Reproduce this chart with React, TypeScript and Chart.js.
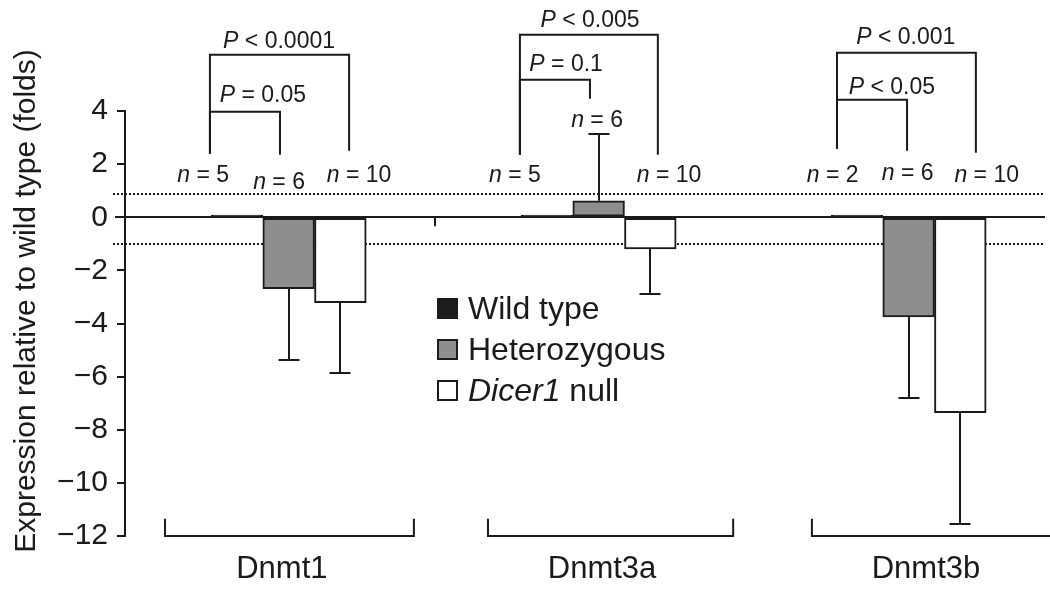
import React, { useEffect, useRef } from 'react';
import { Chart, registerables } from 'chart.js';

Chart.register(...registerables);

// ---------- data ----------
const categories = ['Dnmt1', 'Dnmt3a', 'Dnmt3b'];
const seriesLabels = ['Wild type', 'Heterozygous', 'Dicer1 null'];
const wildType = [0.08, 0.08, 0.08];
const heterozygous = [-2.69, 0.62, -3.75];
const dicer1Null = [-3.22, -1.19, -7.36];
const heterozygousError = [2.68, 2.52, 3.05];
const dicer1NullError = [2.63, 1.69, 4.18];
const nWildType = [5, 5, 2];
const nHeterozygous = [6, 6, 6];
const nDicer1Null = [10, 10, 10];
const pHeterozygous = ['= 0.05', '= 0.1', '< 0.05'];
const pDicer1Null = ['< 0.0001', '< 0.005', '< 0.001'];
const referenceLines = [0.88, -1.0];
const yMin = -12;
const yMax = 4;
const yStep = 2;
const yTitle = 'Expression relative to wild type (folds)';

// ---------- styling / annotation layout (data units) ----------
const FONT = '"Liberation Sans", Arial, Helvetica, sans-serif';
const INK = '#1a1a1a';
const fills = ['#1c1c1c', '#8e8e8e', '#ffffff'];

const nLabelPos = [
  [[-0.276, 1.64], [-0.031, 1.37], [0.227, 1.64]],
  [[0.73, 1.64], [0.995, 3.71], [1.227, 1.64]],
  [[1.755, 1.64], [1.997, 1.72], [2.252, 1.64]],
];
const hetBracket = [
  { x1: -0.254, x2: -0.028, top: 3.97, b1: 2.39, b2: 2.35, lx: -0.083, ly: 4.65 },
  { x1: 0.746, x2: 0.972, top: 5.18, b1: 2.35, b2: 4.46, lx: 0.895, ly: 5.82 },
  { x1: 1.769, x2: 1.995, top: 4.42, b1: 2.58, b2: 2.5, lx: 1.946, ly: 4.95 },
];
const nullBracket = [
  { x1: -0.254, x2: 0.195, top: 6.12, b1: 2.39, b2: 2.5, lx: -0.031, ly: 6.68 },
  { x1: 0.746, x2: 1.191, top: 6.87, b1: 2.35, b2: 2.35, lx: 0.972, ly: 7.47 },
  { x1: 1.769, x2: 2.217, top: 6.19, b1: 2.58, b2: 2.43, lx: 1.991, ly: 6.83 },
];
const categoryBracket = [[-0.399, 0.404], [0.643, 1.434], [1.688, 2.48]];
const categoryLabelX = [-0.022, 1.011, 2.056];
const legendX = 0.478;
const legendRows = [-3.41, -4.95, -6.49];

type Part = { t: string; italic?: boolean };

function drawParts(ctx: CanvasRenderingContext2D, parts: Part[], x: number, yMid: number, size: number, align: 'left' | 'center') {
  const fonts = parts.map((p) => `${p.italic ? 'italic ' : ''}${size}px ${FONT}`);
  const widths = parts.map((p, i) => {
    ctx.font = fonts[i];
    return ctx.measureText(p.t).width;
  });
  const total = widths.reduce((a, b) => a + b, 0);
  let sx = align === 'center' ? x - total / 2 : x;
  const base = yMid + size * 0.358;
  ctx.textAlign = 'left';
  ctx.textBaseline = 'alphabetic';
  ctx.fillStyle = INK;
  parts.forEach((p, i) => {
    ctx.font = fonts[i];
    ctx.fillText(p.t, sx, base);
    sx += widths[i];
  });
}

const annotate = {
  id: 'annotate',
  beforeDatasetsDraw(chart: any) {
    const { ctx, chartArea, scales } = chart;
    const y = scales.y;
    ctx.save();
    ctx.strokeStyle = INK;
    ctx.lineWidth = 2;
    ctx.setLineDash([2, 2]);
    referenceLines.forEach((v) => {
      const py = Math.round(y.getPixelForValue(v));
      ctx.beginPath();
      ctx.moveTo(chartArea.left - 12, py);
      ctx.lineTo(chartArea.right, py);
      ctx.stroke();
    });
    ctx.restore();
  },
  afterDatasetsDraw(chart: any) {
    const { ctx, chartArea, scales } = chart;
    const { x, y } = scales;
    ctx.save();
    ctx.strokeStyle = INK;
    ctx.lineWidth = 2;
    // zero line
    const y0 = Math.round(y.getPixelForValue(0));
    ctx.beginPath();
    ctx.moveTo(chartArea.left - 10, y0);
    ctx.lineTo(chartArea.right, y0);
    ctx.stroke();
    // stray tick between groups
    const sx = Math.round(x.getPixelForValue(0.472));
    ctx.beginPath();
    ctx.moveTo(sx, y0);
    ctx.lineTo(sx, y.getPixelForValue(-0.34));
    ctx.stroke();
    // error bars
    const vals = [wildType, heterozygous, dicer1Null];
    const errs = [null, heterozygousError, dicer1NullError];
    [1, 2].forEach((d) => {
      const meta = chart.getDatasetMeta(d);
      meta.data.forEach((bar: any, j: number) => {
        const v = vals[d][j];
        const e = (errs[d] as number[])[j];
        const end = v + Math.sign(v) * e;
        const cx = Math.round(bar.x);
        const p0 = y.getPixelForValue(v);
        const p1 = Math.round(y.getPixelForValue(end));
        ctx.beginPath();
        ctx.moveTo(cx, p0);
        ctx.lineTo(cx, p1);
        ctx.moveTo(cx - 10.5, p1);
        ctx.lineTo(cx + 10.5, p1);
        ctx.stroke();
      });
    });
    ctx.restore();
  },
  afterDraw(chart: any) {
    const { ctx, scales } = chart;
    const { x, y } = scales;
    ctx.save();
    ctx.strokeStyle = INK;
    ctx.lineWidth = 2;
    ctx.lineJoin = 'miter';
    const px = (v: number) => x.getPixelForValue(v);
    const py = (v: number) => y.getPixelForValue(v);

    // n labels
    const ns = [nWildType, nHeterozygous, nDicer1Null];
    categories.forEach((_, i) => {
      ns.forEach((arr, s) => {
        const [lx, ly] = nLabelPos[i][s];
        drawParts(ctx, [{ t: 'n', italic: true }, { t: ' = ' + arr[i] }], px(lx), py(ly), 23, 'center');
      });
    });

    // P brackets
    const drawBracket = (b: any, label: string) => {
      ctx.beginPath();
      ctx.moveTo(px(b.x1), py(b.b1));
      ctx.lineTo(px(b.x1), py(b.top));
      ctx.lineTo(px(b.x2), py(b.top));
      ctx.lineTo(px(b.x2), py(b.b2));
      ctx.stroke();
      drawParts(ctx, [{ t: 'P', italic: true }, { t: ' ' + label }], px(b.lx), py(b.ly), 23, 'center');
    };
    categories.forEach((_, i) => {
      drawBracket(nullBracket[i], pDicer1Null[i]);
      drawBracket(hetBracket[i], pHeterozygous[i]);
    });

    // category brackets and labels
    categories.forEach((c, i) => {
      const [a, b] = categoryBracket[i];
      const yb = py(yMin);
      const yt = py(-11.35);
      ctx.beginPath();
      ctx.moveTo(px(a), yt);
      ctx.lineTo(px(a), yb);
      ctx.lineTo(px(b), yb);
      ctx.lineTo(px(b), yt);
      ctx.stroke();
      ctx.font = `31px ${FONT}`;
      ctx.fillStyle = INK;
      ctx.textAlign = 'center';
      ctx.textBaseline = 'alphabetic';
      ctx.fillText(c, px(categoryLabelX[i]), 578);
    });

    // legend
    const lx = Math.round(px(legendX));
    seriesLabels.forEach((lab, s) => {
      const cy = Math.round(py(legendRows[s]));
      ctx.fillStyle = fills[s];
      ctx.fillRect(lx, cy - 10, 21, 21);
      ctx.strokeStyle = INK;
      ctx.lineWidth = 2;
      ctx.strokeRect(lx + 1, cy - 9, 19, 19);
      const parts: Part[] = lab === 'Dicer1 null' ? [{ t: 'Dicer1', italic: true }, { t: ' null' }] : [{ t: lab }];
      drawParts(ctx, parts, lx + 31, cy, 32, 'left');
    });

    // y-axis title
    ctx.save();
    ctx.translate(35, 301);
    ctx.rotate(-Math.PI / 2);
    ctx.font = `30px ${FONT}`;
    ctx.fillStyle = INK;
    ctx.textAlign = 'center';
    ctx.textBaseline = 'alphabetic';
    ctx.fillText(yTitle, 0, 0);
    ctx.restore();

    ctx.restore();
  },
};

export default function App() {
  const ref = useRef<HTMLCanvasElement>(null);
  useEffect(() => {
    const series = [wildType, heterozygous, dicer1Null];
    const chart = new Chart(ref.current as HTMLCanvasElement, {
      type: 'bar',
      data: {
        datasets: series.map((vals, s) => ({
          label: seriesLabels[s],
          data: vals.map((v, i) => ({ x: i, y: v })),
          backgroundColor: fills[s],
          borderColor: INK,
          borderWidth: 2,
          borderSkipped: false,
          barThickness: 51.7,
        })),
      },
      options: {
        animation: false,
        responsive: false,
        maintainAspectRatio: false,
        devicePixelRatio: 1,
        layout: { padding: { top: 111, bottom: 62, left: 0, right: 5 } },
        plugins: { legend: { display: false }, tooltip: { enabled: false } },
        scales: {
          x: {
            type: 'linear',
            offset: false,
            bounds: 'data',
            grace: 0,
            min: -0.528,
            max: 2.44,
            display: false,
            afterBuildTicks: (s: any) => {
              s.ticks = categories.map((_, i) => ({ value: i }));
            },
          },
          y: {
            min: yMin,
            max: yMax,
            ticks: {
              stepSize: yStep,
              color: INK,
              padding: 9,
              font: { size: 30, family: FONT },
              callback: (v: any) => (Number(v) < 0 ? '\u2212' + Math.abs(Number(v)) : String(v)),
            },
            grid: { drawOnChartArea: false, drawTicks: true, tickLength: 8, color: INK, lineWidth: 2 },
            border: { display: true, color: INK, width: 2 },
            afterFit: (s: any) => {
              s.width = 125;
            },
          },
        },
      },
      plugins: [annotate],
    } as any);
    return () => chart.destroy();
  }, []);
  return (
    <div style={{ position: 'fixed', left: 0, top: 0, width: 1050, height: 598, background: '#fff' }}>
      <canvas ref={ref} width={1050} height={598} style={{ display: 'block' }} />
    </div>
  );
}
